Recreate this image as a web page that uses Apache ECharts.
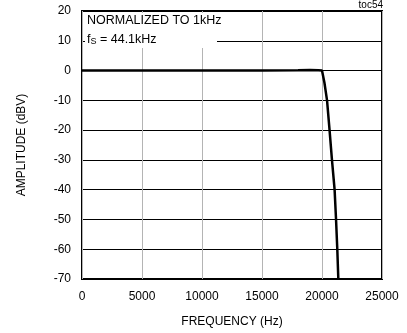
<!DOCTYPE html>
<html>
<head>
<meta charset="UTF-8">
<title>toc54</title>
<script src="https://cdn.jsdelivr.net/npm/echarts@6/dist/echarts.min.js"></script>
<style>
  * {margin: 0; padding: 0;}
  body {background: #fff;}
  #chart {width: 407px; height: 333px;}
</style>
</head>
<body>
<div id="chart"></div>
<script type="text/javascript">
// frequency (Hz) and normalized amplitude (dBV)
var freq = [0, 5000, 10000, 15000, 18000, 19000, 19700, 20000, 20080, 20200, 20420, 20630, 20830, 21050, 21170, 21275, 21360];
var ampl = [0, 0, 0, 0, 0.1, 0.2, 0.1, 0, -0.5, -4, -10, -20, -30, -40, -50, -60, -70];
var xTicks = [0, 5000, 10000, 15000, 20000, 25000];
var yTicks = [20, 10, 0, -10, -20, -30, -40, -50, -60, -70];

var chart = echarts.init(document.getElementById('chart'));
var font = 'Liberation Sans, Arial, sans-serif';

var points = [];
for (var i = 0; i < freq.length; i++) {
  points.push([freq[i], ampl[i]]);
}

var option = {
  animation: false,
  textStyle: {fontFamily: font},
  grid: {
    left: 82, right: 25, top: 11, bottom: 52,
    show: true, borderColor: '#000', borderWidth: 2
  },
  xAxis: {
    type: 'value',
    min: xTicks[0], max: xTicks[xTicks.length - 1], interval: 5000,
    name: 'FREQUENCY (Hz)',
    nameLocation: 'middle', nameGap: 37,
    nameTextStyle: {color: '#000', fontSize: 12, fontFamily: font},
    axisLine: {show: false},
    axisTick: {show: false},
    axisLabel: {color: '#000', fontSize: 12, margin: 12, fontFamily: font,
      formatter: function (v) { return String(v); }},
    splitLine: {show: true, lineStyle: {color: '#b4b4b4', width: 1}}
  },
  yAxis: {
    type: 'value',
    min: yTicks[yTicks.length - 1], max: yTicks[0], interval: 10,
    name: 'AMPLITUDE (dBV)',
    nameLocation: 'middle', nameGap: 54, nameRotate: 90,
    nameTextStyle: {color: '#000', fontSize: 12, fontFamily: font},
    axisLine: {show: false},
    axisTick: {show: false},
    axisLabel: {color: '#000', fontSize: 12, margin: 11, fontFamily: font},
    splitLine: {show: true, lineStyle: {color: '#000', width: 1}}
  },
  graphic: [
    {
      type: 'rect', left: 85, top: 13, z: 10,
      shape: {width: 132, height: 35},
      style: {fill: '#fff'}
    },
    {
      type: 'text', left: 87, top: 14, z: 11,
      style: {
        text: '{a|NORMALIZED TO 1kHz}\n{a|f}{s|S}{a| = 44.1kHz}',
        rich: {
          a: {fontSize: 12.5, fontFamily: font, fill: '#000', lineHeight: 19},
          s: {fontSize: 9, fontFamily: font, fill: '#000', lineHeight: 19, padding: [5, 0, 0, 0]}
        }
      }
    },
    {
      type: 'text', right: 24, top: 0, z: 11,
      style: {text: 'toc54', fontSize: 10, fontFamily: font, fill: '#000'}
    }
  ],
  series: [{
    type: 'line',
    data: points,
    showSymbol: false,
    clip: true,
    lineStyle: {color: '#000', width: 2.5}
  }]
};

chart.setOption(option);
</script>
</body>
</html>
